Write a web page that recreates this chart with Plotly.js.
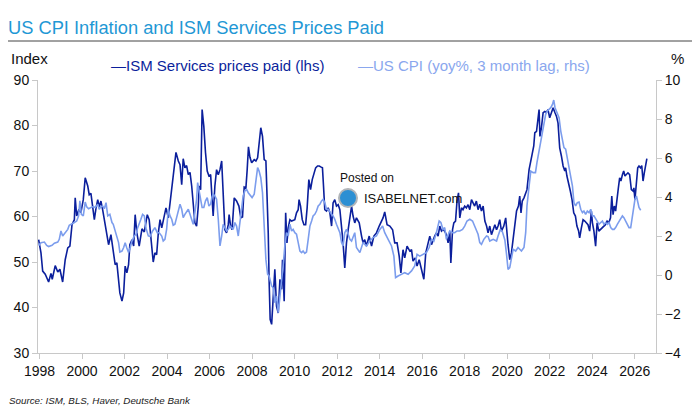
<!DOCTYPE html>
<html>
<head>
<meta charset="utf-8">
<script src="https://cdn.plot.ly/plotly-3.0.1.min.js"></script>
<style>
html,body{margin:0;padding:0;background:#fff;}
#chart{width:700px;height:420px;}
</style>
</head>
<body>
<div id="chart"></div>
<script>
// ISM Services prices paid (index, lhs): [decimal year, value]
const ismSeries = [
[1997.96,54.9],[1998.07,52.0],[1998.15,48.0],[1998.27,47.3],[1998.43,45.6],[1998.54,47.5],[1998.60,46.2],[1998.74,49.2],[1998.86,47.8],[1998.96,48.4],
[1999.09,45.6],[1999.21,50.5],[1999.33,53.1],[1999.43,53.5],[1999.53,58.2],[1999.64,59.3],[1999.68,64.1],[1999.75,60.1],[1999.84,61.4],[1999.95,60.9],
[2000.06,63.7],[2000.15,68.5],[2000.27,66.7],[2000.34,64.8],[2000.42,65.1],[2000.50,62.6],[2000.58,59.3],[2000.66,61.9],[2000.74,63.7],[2000.81,62.1],[2000.89,63.4],[2000.97,61.5],
[2001.05,59.3],[2001.16,57.1],[2001.25,53.8],[2001.36,56.0],[2001.47,52.0],[2001.56,49.4],[2001.64,49.8],[2001.72,46.2],[2001.78,43.2],[2001.88,41.4],[2001.96,43.2],
[2002.03,49.1],[2002.11,47.6],[2002.19,49.4],[2002.25,53.8],[2002.35,54.9],[2002.43,53.5],[2002.50,60.4],[2002.58,56.4],[2002.69,53.5],[2002.82,57.3],[2002.93,56.6],
[2003.07,60.4],[2003.16,59.3],[2003.28,53.5],[2003.35,50.0],[2003.43,52.0],[2003.51,51.6],[2003.59,56.4],[2003.67,59.3],[2003.75,57.5],[2003.85,60.1],[2003.95,61.9],
[2004.06,59.7],[2004.17,64.5],[2004.29,69.2],[2004.42,74.1],[2004.53,72.2],[2004.61,71.4],[2004.69,67.0],[2004.76,72.7],[2004.84,70.7],[2004.92,71.2],
[2005.00,69.2],[2005.08,69.7],[2005.16,66.7],[2005.23,63.0],[2005.31,58.6],[2005.39,57.9],[2005.47,62.3],[2005.51,66.7],[2005.58,65.9],[2005.65,83.5],[2005.73,79.8],[2005.81,74.0],[2005.89,70.0],[2005.97,68.9],
[2006.05,69.2],[2006.11,64.5],[2006.17,60.1],[2006.25,66.7],[2006.33,70.3],[2006.41,69.2],[2006.49,70.3],[2006.57,72.2],[2006.64,63.7],[2006.72,57.1],[2006.80,56.4],[2006.88,58.2],[2006.92,60.4],[2006.99,57.9],
[2007.06,57.1],[2007.16,64.1],[2007.27,63.4],[2007.38,62.3],[2007.47,59.7],[2007.55,59.9],[2007.63,66.5],[2007.71,66.3],[2007.77,70.3],[2007.83,75.3],[2007.90,73.0],[2007.98,71.8],
[2008.10,72.5],[2008.18,72.2],[2008.26,72.9],[2008.33,76.2],[2008.41,79.5],[2008.49,77.6],[2008.57,72.5],[2008.65,72.2],[2008.70,66.7],[2008.76,56.4],[2008.80,46.2],[2008.85,37.4],[2008.92,36.3],[2008.99,42.5],
[2009.07,48.4],[2009.15,40.3],[2009.23,38.8],[2009.31,46.2],[2009.39,44.0],[2009.43,50.5],[2009.51,41.4],[2009.58,60.8],[2009.64,54.2],[2009.70,57.5],[2009.78,59.3],[2009.86,59.0],[2009.93,59.2],
[2010.01,59.3],[2010.09,60.8],[2010.17,61.5],[2010.21,63.7],[2010.28,62.3],[2010.36,59.3],[2010.44,58.2],[2010.52,58.2],[2010.59,61.9],[2010.67,68.1],[2010.75,65.9],[2010.83,68.1],[2010.91,69.6],[2010.99,70.7],
[2011.08,71.1],[2011.16,71.1],[2011.23,70.9],[2011.31,70.7],[2011.36,66.7],[2011.42,61.5],[2011.50,61.2],[2011.58,61.9],[2011.66,60.8],[2011.74,57.9],[2011.81,63.0],[2011.89,63.7],[2011.97,62.3],
[2012.05,62.6],[2012.13,61.5],[2012.21,57.9],[2012.28,54.2],[2012.36,48.7],[2012.44,54.2],[2012.52,57.1],[2012.60,60.1],[2012.68,62.3],[2012.75,60.1],[2012.83,58.6],[2012.91,59.7],
[2013.04,58.6],[2013.15,55.7],[2013.22,54.2],[2013.30,54.9],[2013.38,53.5],[2013.51,55.7],[2013.62,53.5],[2013.73,55.7],[2013.85,56.4],[2013.98,57.9],
[2014.09,59.0],[2014.16,59.7],[2014.24,61.0],[2014.35,58.2],[2014.48,57.9],[2014.61,57.1],[2014.71,54.2],[2014.82,54.2],[2014.92,51.3],
[2015.00,47.6],[2015.10,52.7],[2015.18,50.9],[2015.29,53.5],[2015.42,52.4],[2015.50,52.7],[2015.57,50.2],[2015.67,50.9],[2015.76,49.1],[2015.86,50.5],[2015.97,48.0],
[2016.08,46.2],[2016.17,52.0],[2016.28,54.2],[2016.36,55.7],[2016.44,53.8],[2016.51,54.9],[2016.59,55.7],[2016.67,56.4],[2016.75,55.7],[2016.83,57.9],[2016.91,56.8],[2016.98,57.1],
[2017.06,56.8],[2017.14,56.0],[2017.22,54.2],[2017.30,56.8],[2017.35,49.8],[2017.43,57.1],[2017.49,58.6],[2017.57,59.0],[2017.64,63.4],[2017.71,65.2],[2017.77,59.7],[2017.85,61.9],[2017.92,61.5],
[2018.00,62.3],[2018.08,61.9],[2018.16,62.6],[2018.24,61.5],[2018.32,63.7],[2018.40,63.0],[2018.47,62.3],[2018.55,63.4],[2018.63,61.5],[2018.71,62.7],[2018.79,61.2],[2018.87,62.3],[2018.95,59.0],
[2019.03,57.9],[2019.10,56.4],[2019.18,57.9],[2019.26,56.0],[2019.34,57.1],[2019.42,58.2],[2019.50,57.1],[2019.57,57.9],[2019.65,59.3],[2019.73,56.8],[2019.84,57.9],[2019.93,59.7],
[2020.04,53.8],[2020.12,50.5],[2020.20,52.0],[2020.28,54.9],[2020.36,57.5],[2020.44,61.2],[2020.53,62.3],[2020.59,64.5],[2020.65,60.8],[2020.71,63.4],[2020.79,64.1],[2020.87,65.2],[2020.93,65.9],
[2021.03,70.3],[2021.09,72.2],[2021.17,73.6],[2021.25,75.5],[2021.30,78.4],[2021.38,78.7],[2021.45,81.3],[2021.50,83.5],[2021.54,77.6],[2021.61,79.5],[2021.69,82.8],[2021.77,83.1],[2021.84,82.9],[2021.92,83.5],
[2022.00,81.7],[2022.08,82.8],[2022.16,83.9],[2022.24,82.9],[2022.32,82.0],[2022.39,80.6],[2022.47,75.1],[2022.55,73.3],[2022.63,71.1],[2022.71,70.0],[2022.75,70.7],[2022.81,68.9],[2022.89,67.4],[2022.97,65.6],
[2023.05,63.7],[2023.13,60.8],[2023.21,60.1],[2023.28,57.9],[2023.36,56.8],[2023.41,55.3],[2023.49,57.5],[2023.57,59.3],[2023.65,59.0],[2023.73,58.6],[2023.80,58.2],[2023.88,56.8],[2023.96,61.2],
[2024.01,58.6],[2024.08,56.8],[2024.16,53.5],[2024.23,58.6],[2024.31,56.8],[2024.38,57.1],[2024.46,57.5],[2024.54,57.9],[2024.62,58.2],[2024.70,59.0],[2024.78,58.6],[2024.86,59.7],[2024.92,64.5],[2024.98,60.4],
[2025.04,62.3],[2025.10,61.2],[2025.17,64.8],[2025.23,66.3],[2025.29,68.5],[2025.35,67.8],[2025.42,69.2],[2025.48,70.0],[2025.54,68.9],[2025.61,69.2],[2025.68,69.6],[2025.76,69.2],[2025.84,65.9],[2025.92,65.6],[2025.96,66.3],
[2026.01,63.7],[2026.08,66.7],[2026.14,70.7],[2026.20,71.1],[2026.27,70.7],[2026.33,71.2],[2026.39,67.8],[2026.45,69.6],[2026.51,71.1],[2026.57,72.7]
];

// US CPI (yoy %, 3 month lag, rhs): [decimal year, value]
const cpiSeries = [
[1997.96,1.52],[1998.07,1.66],[1998.23,1.69],[1998.34,1.52],[1998.43,1.46],[1998.59,1.52],[1998.70,1.63],[1998.86,1.69],[1998.93,1.83],
[1999.01,2.26],[1999.09,2.00],[1999.21,2.17],[1999.33,2.34],[1999.40,2.55],[1999.53,2.65],[1999.64,2.69],[1999.75,2.77],[1999.84,3.03],[1999.90,3.80],[1999.97,3.11],
[2000.06,3.03],[2000.15,3.74],[2000.22,3.50],[2000.31,3.40],[2000.42,3.46],[2000.53,3.51],[2000.62,3.46],[2000.74,3.63],[2000.81,3.37],[2000.89,3.51],[2000.97,3.54],
[2001.05,3.40],[2001.13,3.71],[2001.21,3.03],[2001.31,3.11],[2001.41,2.69],[2001.47,2.60],[2001.56,2.21],[2001.64,1.92],[2001.72,1.66],[2001.78,1.18],[2001.88,1.23],[2001.96,1.41],
[2002.03,1.66],[2002.10,1.41],[2002.19,1.15],[2002.27,1.41],[2002.35,1.74],[2002.46,2.00],[2002.54,2.09],[2002.62,2.43],[2002.69,2.69],[2002.77,2.86],[2002.85,3.11],[2002.93,3.03],
[2003.01,2.40],[2003.12,2.00],[2003.20,1.97],[2003.32,2.26],[2003.43,2.43],[2003.54,2.17],[2003.63,2.17],[2003.75,2.00],[2003.82,1.74],[2003.90,1.83],[2003.98,2.34],
[2004.06,3.37],[2004.14,3.03],[2004.22,2.86],[2004.29,2.55],[2004.37,2.60],[2004.45,2.94],[2004.53,3.28],[2004.61,3.63],[2004.69,3.37],[2004.76,2.94],[2004.84,3.11],[2004.92,3.23],
[2005.00,3.37],[2005.08,3.11],[2005.16,2.86],[2005.23,2.60],[2005.31,3.20],[2005.39,3.88],[2005.44,4.74],[2005.51,4.39],[2005.58,3.88],[2005.65,3.46],[2005.73,3.46],[2005.81,3.80],[2005.89,3.97],[2005.97,3.54],
[2006.05,3.63],[2006.11,3.97],[2006.17,4.14],[2006.25,4.05],[2006.33,3.88],[2006.41,2.86],[2006.49,1.49],[2006.57,2.00],[2006.64,2.60],[2006.72,2.43],[2006.80,2.26],[2006.88,2.34],[2006.96,2.51],
[2007.04,2.43],[2007.11,2.34],[2007.19,2.69],[2007.27,2.51],[2007.35,2.00],[2007.43,2.69],[2007.51,3.37],[2007.58,4.05],[2007.66,4.31],[2007.74,4.39],[2007.82,4.22],[2007.90,4.10],
[2008.00,3.97],[2008.10,4.14],[2008.18,4.91],[2008.26,5.51],[2008.33,5.33],[2008.41,4.99],[2008.49,4.22],[2008.57,2.51],[2008.65,0.80],[2008.73,0.04],[2008.80,-0.05],[2008.92,-0.56],[2008.99,-0.65],
[2009.07,-1.42],[2009.15,-1.08],[2009.23,-1.93],[2009.31,-1.16],[2009.39,-0.05],[2009.46,0.46],[2009.54,1.49],[2009.62,2.17],[2009.70,2.00],[2009.78,2.60],[2009.86,2.26],[2009.93,2.34],
[2010.01,2.17],[2010.09,2.09],[2010.17,1.66],[2010.25,1.23],[2010.33,1.15],[2010.40,1.23],[2010.48,1.11],[2010.56,1.18],[2010.64,1.83],[2010.72,2.51],[2010.80,2.77],[2010.87,3.03],[2010.95,3.11],
[2011.03,3.28],[2011.11,3.54],[2011.19,3.63],[2011.27,3.80],[2011.34,3.88],[2011.42,3.71],[2011.50,3.37],[2011.58,3.37],[2011.66,3.20],[2011.74,3.11],[2011.81,3.03],[2011.89,2.86],[2011.97,2.60],
[2012.05,2.34],[2012.13,2.17],[2012.21,1.66],[2012.28,1.49],[2012.36,2.17],[2012.44,2.34],[2012.52,2.09],[2012.60,1.83],[2012.68,1.74],[2012.75,2.00],[2012.83,2.17],[2012.91,1.41],
[2013.07,1.15],[2013.22,1.66],[2013.38,1.49],[2013.54,1.74],[2013.69,1.92],[2013.85,2.00],
[2014.01,2.34],[2014.14,2.51],[2014.24,2.17],[2014.40,1.83],[2014.56,1.49],[2014.67,0.97],[2014.75,-0.13],[2014.87,-0.05],
[2015.03,0.04],[2015.18,0.12],[2015.34,0.04],[2015.50,0.21],[2015.65,0.46],[2015.76,1.06],[2015.89,0.97],
[2016.04,1.06],[2016.20,1.15],[2016.33,1.41],[2016.44,1.83],[2016.55,1.74],[2016.67,2.17],[2016.80,2.77],[2016.88,2.69],[2016.98,2.34],
[2017.06,2.43],[2017.14,1.83],[2017.22,2.09],[2017.30,2.26],[2017.43,2.17],[2017.53,2.17],[2017.64,2.26],[2017.77,2.26],[2017.90,2.34],
[2018.00,2.51],[2018.11,2.77],[2018.24,2.86],[2018.37,2.77],[2018.47,2.51],[2018.55,2.34],[2018.63,2.09],[2018.71,1.66],[2018.79,1.57],[2018.90,1.83],
[2019.03,2.00],[2019.10,1.97],[2019.18,1.74],[2019.34,1.83],[2019.50,1.74],[2019.57,2.00],[2019.68,2.34],[2019.78,2.20],[2019.89,1.80],[2019.97,1.06],
[2020.04,0.29],[2020.12,0.38],[2020.20,0.97],[2020.28,1.32],[2020.40,1.23],[2020.51,1.41],[2020.67,1.23],[2020.79,1.41],[2020.87,2.17],[2020.93,3.54],
[2021.03,4.56],[2021.11,5.33],[2021.22,5.25],[2021.33,5.25],[2021.40,5.76],[2021.48,6.28],[2021.56,6.79],[2021.65,7.38],[2021.73,7.90],[2021.81,8.24],[2021.89,8.41],[2021.97,8.50],
[2022.05,8.58],[2022.13,8.75],[2022.19,8.97],[2022.25,8.58],[2022.34,8.33],[2022.44,8.07],[2022.52,7.38],[2022.60,6.87],[2022.67,6.53],[2022.75,6.45],[2022.83,5.93],[2022.91,5.42],[2022.99,5.00],
[2023.07,4.56],[2023.14,3.71],[2023.22,3.54],[2023.30,3.71],[2023.38,3.74],[2023.46,3.37],[2023.54,3.20],[2023.61,3.28],[2023.69,3.11],[2023.77,3.28],[2023.85,3.20],[2023.93,3.37],
[2024.01,3.03],[2024.08,3.03],[2024.16,2.86],[2024.24,2.69],[2024.32,2.60],[2024.40,2.69],[2024.48,2.77],[2024.55,2.60],[2024.63,2.69],[2024.71,2.60],[2024.79,2.69],[2024.87,2.43],[2024.95,2.34],
[2025.03,2.34],[2025.10,2.43],[2025.18,2.60],[2025.26,2.77],[2025.34,2.94],[2025.42,3.03],[2025.49,2.94],[2025.57,2.77],[2025.65,2.60],[2025.73,2.43],[2025.81,2.43],[2025.89,3.03],[2025.95,3.54],
[2026.01,3.88],[2026.08,4.05],[2026.14,3.80],[2026.20,3.46],[2026.28,3.32]
];

const yearTicks = [1998,2000,2002,2004,2006,2008,2010,2012,2014,2016,2018,2020,2022,2024,2026];
const leftTicks = [30,40,50,60,70,80,90];
const rightTicks = [-4,-2,0,2,4,6,8,10];

const ismName = 'ISM Services prices paid (lhs)';
const cpiName = 'US CPI (yoy%, 3 month lag, rhs)';
const ismColor = '#0b1f9c';
const cpiColor = '#7c9ded';

const FONT = 'Liberation Sans, Arial, sans-serif';
const W = 700, H = 420;
const M = {l:38, r:44, t:80, b:67};
const pw = W - M.l - M.r, ph = H - M.t - M.b;
const px = x => (x - M.l) / pw;
const py = y => (H - M.b - y) / ph;

const traces = [
  {x: cpiSeries.map(d => d[0]), y: cpiSeries.map(d => d[1]), yaxis: 'y2', type: 'scatter', mode: 'lines',
   name: cpiName, line: {color: cpiColor, width: 1.6}, hoverinfo: 'x+y'},
  {x: ismSeries.map(d => d[0]), y: ismSeries.map(d => d[1]), yaxis: 'y', type: 'scatter', mode: 'lines',
   name: ismName, line: {color: ismColor, width: 1.6}, hoverinfo: 'x+y'}
];

const axisCommon = {
  showgrid: false, zeroline: false, showline: true, linecolor: '#c8c8c8', linewidth: 1,
  ticks: 'outside', ticklen: 5, tickcolor: '#c8c8c8', tickfont: {family: FONT, size: 14, color: '#111'}
};

const layout = {
  width: W, height: H,
  margin: M,
  paper_bgcolor: '#fff', plot_bgcolor: '#fff',
  showlegend: false,
  font: {family: FONT, color: '#111'},
  title: {text: 'US CPI Inflation and ISM Services Prices Paid', x: 8 / W, xanchor: 'left', xref: 'container',
          y: 1 - 28 / H, yanchor: 'middle', yref: 'container', font: {family: FONT, size: 18.3, color: '#1f98d5'}},
  xaxis: Object.assign({}, axisCommon, {range: [1997.93, 2027.0], tickvals: yearTicks, ticktext: yearTicks.map(String)}),
  yaxis: Object.assign({}, axisCommon, {range: [30, 90], tickvals: leftTicks}),
  yaxis2: Object.assign({}, axisCommon, {range: [-4, 10], tickvals: rightTicks, overlaying: 'y', side: 'right'}),
  shapes: [
    {type: 'line', xref: 'paper', yref: 'paper', x0: px(8), x1: px(692), y0: py(41), y1: py(41),
     line: {color: '#444', width: 1}},
    {type: 'circle', xref: 'paper', yref: 'paper', x0: px(339), x1: px(357), y0: py(207), y1: py(189),
     fillcolor: '#2c8fd3', line: {color: '#b0b4b8', width: 2}}
  ],
  annotations: [
    {text: 'Index', xref: 'paper', yref: 'paper', x: px(9), y: py(58), xanchor: 'left', yanchor: 'middle', showarrow: false,
     font: {family: FONT, size: 15, color: '#111'}},
    {text: '%', xref: 'paper', yref: 'paper', x: px(677), y: py(58), xanchor: 'center', yanchor: 'middle', showarrow: false,
     font: {family: FONT, size: 15, color: '#111'}},
    {text: '\u2014' + ismName, xref: 'paper', yref: 'paper', x: px(109), y: py(65), xanchor: 'left', yanchor: 'middle', showarrow: false,
     font: {family: FONT, size: 15, color: '#0b1f9c'}},
    {text: '\u2014' + cpiName, xref: 'paper', yref: 'paper', x: px(356), y: py(65), xanchor: 'left', yanchor: 'middle', showarrow: false,
     font: {family: FONT, size: 15, color: '#8aa7ee'}},
    {text: '<i>Source: ISM, BLS, Haver, Deutsche Bank</i>', xref: 'paper', yref: 'paper', x: px(7), y: py(400), xanchor: 'left', yanchor: 'middle', showarrow: false,
     font: {family: FONT, size: 9.8, color: '#222'}},
    {text: 'Posted on', xref: 'paper', yref: 'paper', x: px(338), y: py(178), xanchor: 'left', yanchor: 'middle', showarrow: false,
     font: {family: FONT, size: 12, color: '#111'}},
    {text: 'ISABELNET.com', xref: 'paper', yref: 'paper', x: px(362), y: py(198), xanchor: 'left', yanchor: 'middle', showarrow: false,
     font: {family: FONT, size: 13, color: '#111'}}
  ]
};

Plotly.newPlot('chart', traces, layout, {displayModeBar: false, staticPlot: true});
</script>
</body>
</html>
